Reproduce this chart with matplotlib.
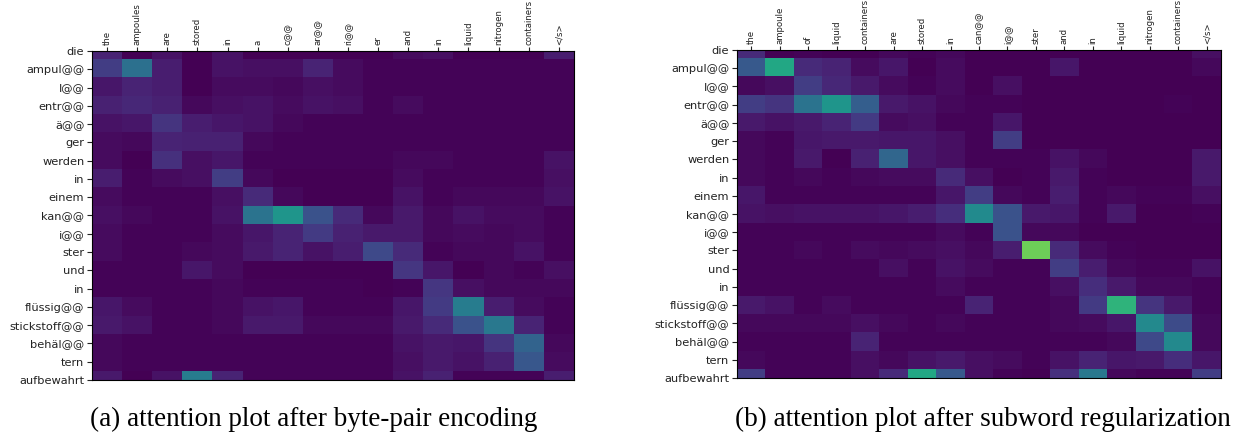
import numpy as np
import matplotlib
matplotlib.use('Agg')
import matplotlib.pyplot as plt

# german target tokens (rows), shared by both plots
tgt_tokens = ['die', 'ampul@@', 'l@@', 'entr@@', 'ä@@', 'ger', 'werden', 'in', 'einem',
              'kan@@', 'i@@', 'ster', 'und', 'in', 'flüssig@@', 'stickstoff@@',
              'behäl@@', 'tern', 'aufbewahrt']

# (a) byte-pair encoding
src_bpe = ['the', 'ampoules', 'are', 'stored', 'in', 'a', 'c@@', 'ar@@', 'ri@@', 'er',
           'and', 'in', 'liquid', 'nitrogen', 'containers', '</s>']
attn_bpe = [
    [.10, .00, .05, .00, .05, .00, .00, .00, .00, .00, .03, .04, .00, .00, .00, .08],
    [.18, .37, .08, .00, .05, .04, .04, .10, .03, .01, .01, .01, .01, .01, .01, .01],
    [.06, .10, .08, .00, .03, .03, .02, .04, .03, .01, .01, .01, .01, .01, .01, .01],
    [.09, .11, .09, .02, .04, .05, .03, .05, .04, .01, .03, .01, .01, .01, .01, .01],
    [.05, .06, .15, .08, .06, .05, .02, .01, .01, .01, .01, .01, .01, .01, .01, .01],
    [.03, .02, .10, .09, .09, .02, .01, .01, .01, .01, .01, .01, .01, .01, .01, .01],
    [.03, .00, .14, .04, .06, .01, .01, .01, .01, .01, .02, .02, .01, .01, .01, .05],
    [.08, .01, .03, .04, .18, .02, .00, .00, .00, .00, .03, .01, .01, .01, .01, .04],
    [.03, .01, .01, .01, .04, .12, .02, .00, .00, .00, .05, .01, .02, .02, .02, .05],
    [.04, .02, .01, .01, .05, .38, .52, .25, .12, .02, .07, .02, .05, .03, .03, .01],
    [.03, .01, .01, .01, .03, .06, .10, .17, .09, .07, .07, .02, .03, .02, .03, .01],
    [.03, .01, .01, .02, .03, .07, .10, .05, .08, .22, .12, .01, .02, .02, .05, .01],
    [.01, .01, .01, .06, .03, .00, .00, .00, .00, .00, .16, .06, .00, .02, .01, .04],
    [.01, .01, .01, .01, .02, .01, .01, .01, .01, .00, .01, .16, .04, .02, .02, .02],
    [.06, .03, .01, .01, .02, .05, .06, .01, .01, .01, .06, .17, .42, .08, .03, .01],
    [.07, .05, .01, .01, .02, .07, .07, .02, .02, .02, .07, .12, .25, .40, .10, .01],
    [.02, .01, .01, .01, .01, .01, .01, .01, .01, .01, .05, .07, .06, .15, .32, .02],
    [.02, .01, .01, .01, .01, .01, .01, .01, .01, .01, .04, .07, .05, .09, .27, .03],
    [.07, .00, .05, .42, .10, .01, .01, .01, .01, .01, .05, .09, .01, .01, .01, .08],
]

# (b) subword regularization
src_sr = ['the', 'ampoule', 'of', 'liquid', 'containers', 'are', 'stored', 'in', 'can@@',
          'i@@', 'ster', 'and', 'in', 'liquid', 'nitrogen', 'containers', '</s>']
attn_sr = [
    [.12, .00, .01, .00, .00, .02, .01, .02, .00, .00, .00, .00, .00, .00, .00, .00, .04],
    [.28, .60, .12, .10, .03, .06, .00, .03, .00, .00, .00, .06, .00, .00, .00, .00, .02],
    [.02, .04, .18, .11, .07, .03, .01, .03, .00, .04, .00, .00, .00, .00, .00, .00, .00],
    [.18, .15, .38, .52, .30, .07, .05, .02, .01, .01, .00, .00, .00, .00, .00, .01, .00],
    [.07, .05, .07, .10, .17, .03, .04, .01, .01, .06, .00, .00, .00, .00, .00, .00, .00],
    [.02, .01, .06, .07, .07, .06, .06, .04, .01, .18, .00, .00, .00, .00, .00, .00, .00],
    [.02, .01, .07, .00, .09, .33, .06, .04, .01, .01, .01, .05, .02, .00, .00, .00, .07],
    [.02, .01, .02, .01, .02, .03, .03, .12, .04, .00, .01, .07, .01, .00, .00, .00, .07],
    [.06, .01, .01, .01, .01, .01, .01, .06, .18, .02, .01, .08, .01, .02, .01, .01, .04],
    [.05, .04, .05, .05, .05, .06, .08, .13, .48, .25, .07, .06, .01, .07, .00, .00, .01],
    [.01, .01, .01, .01, .01, .01, .01, .03, .01, .25, .02, .02, .00, .00, .00, .00, .00],
    [.01, .01, .02, .01, .03, .02, .03, .04, .02, .08, .78, .12, .03, .01, .00, .00, .00],
    [.01, .01, .01, .01, .01, .04, .01, .05, .03, .01, .01, .18, .08, .02, .01, .01, .05],
    [.01, .01, .01, .01, .01, .01, .01, .03, .01, .01, .01, .04, .13, .07, .02, .02, .01],
    [.07, .05, .01, .03, .01, .01, .01, .01, .10, .01, .01, .02, .17, .65, .15, .07, .01],
    [.02, .02, .02, .02, .04, .02, .01, .02, .01, .01, .01, .02, .03, .06, .47, .23, .02],
    [.01, .01, .01, .01, .10, .01, .01, .01, .01, .01, .01, .01, .01, .02, .22, .47, .02],
    [.02, .01, .01, .01, .04, .02, .05, .07, .04, .03, .01, .05, .10, .06, .07, .13, .06],
    [.18, .01, .01, .01, .04, .12, .60, .28, .04, .01, .00, .14, .40, .02, .01, .01, .18],
]

captions = ['(a) attention plot after byte-pair encoding',
            '(b) attention plot after subword regularization']


def draw_attention(ax, attn, src, tgt):
    attn = np.array(attn)
    ax.imshow(attn, cmap='viridis', vmin=0, vmax=1, aspect='auto', interpolation='nearest')
    # rows are cut in half at top and bottom like the original
    ax.set_ylim(len(tgt) - 1, 0)
    ax.set_xticks(range(len(src)))
    ax.set_xticklabels(src, rotation=90, fontsize=6.8, fontstretch='condensed')
    ax.set_yticks(range(len(tgt)))
    ax.set_yticklabels(tgt, fontsize=8.2, color='#222222')
    ax.xaxis.tick_top()
    ax.tick_params(axis='x', length=3, pad=1.5, colors='#222222')
    ax.tick_params(axis='y', length=3.5, pad=2, colors='#222222')


fig = plt.figure(figsize=(12.46, 4.32), dpi=100)
ax_a = fig.add_axes([0.0738, 0.1204, 0.3868, 0.7616])
ax_b = fig.add_axes([0.5915, 0.1250, 0.3884, 0.7593])

draw_attention(ax_a, attn_bpe, src_bpe, tgt_tokens)
draw_attention(ax_b, attn_sr, src_sr, tgt_tokens)

fig.text(90 / 1246, 6 / 432, captions[0], ha='left', va='baseline',
         fontsize=19.5, family='Liberation Serif')
fig.text(735 / 1246, 6 / 432, captions[1], ha='left', va='baseline',
         fontsize=19.5, family='Liberation Serif')

fig.savefig('out.png', dpi=100)
